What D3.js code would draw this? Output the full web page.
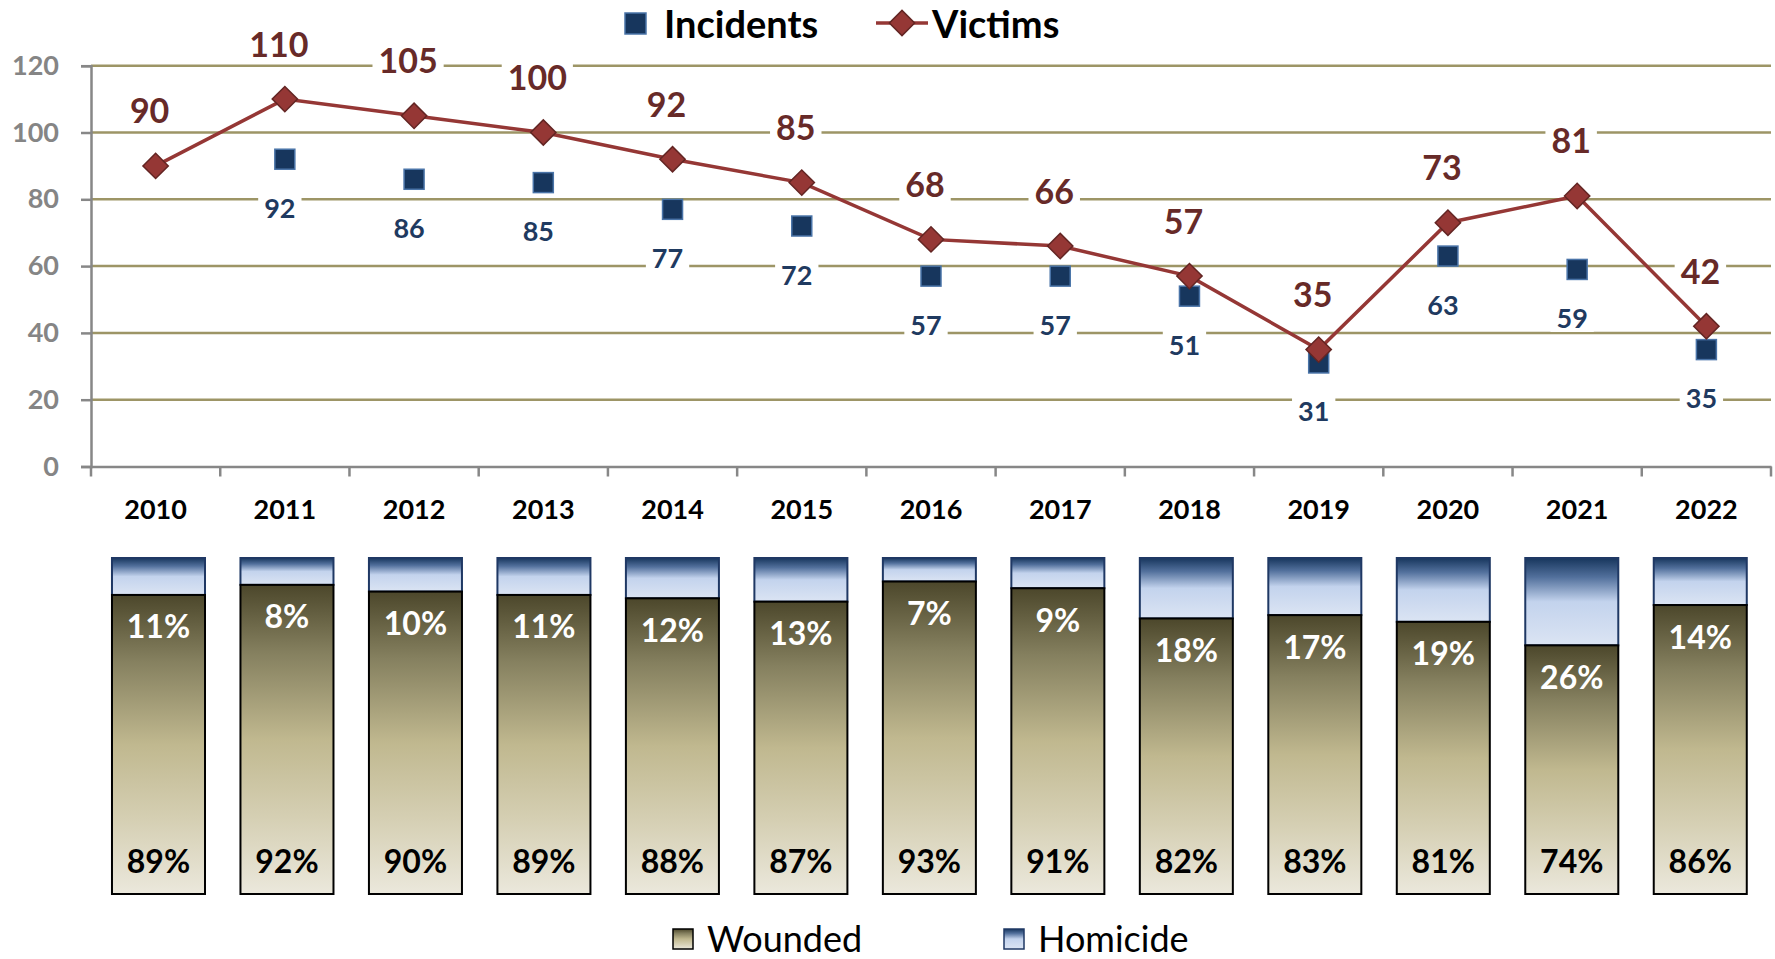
<!DOCTYPE html>
<html>
<head>
<meta charset="utf-8">
<script src="https://cdn.jsdelivr.net/npm/d3@7"></script>
<style>
  body { margin: 0; background: #fff; }
  text { font-family: Lato, "Open Sans", sans-serif; }
</style>
</head>
<body>
<div id="chart"></div>
<script>
const width = 1775
const height = 959

// data
const years = ["2010", "2011", "2012", "2013", "2014", "2015", "2016", "2017", "2018", "2019", "2020", "2021", "2022"]
const victims = [90, 110, 105, 100, 92, 85, 68, 66, 57, 35, 73, 81, 42]
const incidents = [null, 92, 86, 85, 77, 72, 57, 57, 51, 31, 63, 59, 35]
const woundedPct = [89, 92, 90, 89, 88, 87, 93, 91, 82, 83, 81, 74, 86]
const homicidePct = [11, 8, 10, 11, 12, 13, 7, 9, 18, 17, 19, 26, 14]
const yTicks = [0, 20, 40, 60, 80, 100, 120]

const svg = d3.select("div#chart").append("svg").attr("width", width).attr("height", height)
const defs = svg.append("defs")

const woundGrad = defs.append("linearGradient").attr("id", "wound").attr("x1", 0).attr("y1", 0).attr("x2", 0).attr("y2", 1)
;[[0, "#4c472b"], [0.22, "#85805f"], [0.5, "#c0b88f"], [0.75, "#d5cfb3"], [1, "#ebe8dc"]]
    .forEach(s => woundGrad.append("stop").attr("offset", s[0]).attr("stop-color", s[1]))
const homGrad = defs.append("linearGradient").attr("id", "hom").attr("x1", 0).attr("y1", 0).attr("x2", 0).attr("y2", 1)
;[[0, "#17365d"], [0.22, "#52709c"], [0.5, "#c3d3ed"], [1, "#dbe4f3"]]
    .forEach(s => homGrad.append("stop").attr("offset", s[0]).attr("stop-color", s[1]))

// ---- top panel: line + squares
const x = d3.scaleBand().domain(years).range([91, 1771])
const y = d3.scaleLinear().domain([0, 120]).range([466.5, 65.7])
const cx = d => x(d) + x.bandwidth() / 2

const grid = svg.append("g")
grid.selectAll("line").data(yTicks.filter(t => t > 0)).join("line")
    .attr("x1", x.range()[0]).attr("x2", x.range()[1])
    .attr("y1", d => y(d)).attr("y2", d => y(d))
    .attr("stroke", "#9d9566").attr("stroke-width", 2.5)

const yAxis = svg.append("g").attr("transform", `translate(${x.range()[0]},0)`)
    .call(d3.axisLeft(y).tickValues(yTicks).tickSize(10).tickPadding(22))
yAxis.select(".domain").attr("stroke", "#878787").attr("stroke-width", 2.5)
yAxis.selectAll(".tick line").attr("stroke", "#878787").attr("stroke-width", 2.5)
yAxis.selectAll(".tick text").attr("fill", "#858585").attr("font-size", 27).attr("font-weight", "bold")

const xAxis = svg.append("g").attr("transform", `translate(0,${y(0)})`)
    .call(d3.axisBottom(x).tickSize(0).tickPadding(33))
xAxis.select(".domain").attr("stroke", "#878787").attr("stroke-width", 2.5)
xAxis.selectAll(".tick text").attr("fill", "#000").attr("font-size", 27).attr("font-weight", "bold")
xAxis.selectAll(".bound").data(years.concat(["end"])).join("line").attr("class", "bound")
    .attr("x1", (d, i) => x.range()[0] + i * x.step()).attr("x2", (d, i) => x.range()[0] + i * x.step())
    .attr("y1", 0).attr("y2", 10).attr("stroke", "#878787").attr("stroke-width", 2.5)

// label helper: text with white box behind it
function label(g, tx, ty, txt, color, size) {
    const t = g.append("text").attr("x", tx).attr("y", ty).attr("text-anchor", "middle")
        .attr("dominant-baseline", "central").attr("font-size", size).attr("font-weight", "bold")
        .attr("fill", color).text(txt)
    const b = t.node().getBBox()
    g.insert("rect", "text:last-child").attr("x", b.x - 6).attr("y", b.y + 2).attr("width", b.width + 12)
        .attr("height", b.height - 4).attr("fill", "#fff")
}

const incData = years.map((d, i) => ({ year: d, v: incidents[i] })).filter(d => d.v !== null)
const vicData = years.map((d, i) => ({ year: d, v: victims[i] }))

const labels = svg.append("g")
incData.forEach(d => label(labels.append("g"), cx(d.year) - 5, y(d.v) + 48, d.v, "#1f3a60", 27))
vicData.forEach(d => label(labels.append("g"), cx(d.year) - 6, y(d.v) - 56, d.v, "#672a28", 34))

svg.append("g").selectAll("rect").data(incData).join("rect")
    .attr("x", d => cx(d.year) - 10).attr("y", d => y(d.v) - 10)
    .attr("width", 20).attr("height", 20)
    .attr("fill", "#17365d").attr("stroke", "#4a74a8").attr("stroke-width", 1.5)

const line = d3.line().x(d => cx(d.year)).y(d => y(d.v))
svg.append("path").datum(vicData).attr("d", line)
    .attr("fill", "none").attr("stroke", "#953735").attr("stroke-width", 3.5)

const diamond = d3.symbol().type(d3.symbolSquare).size(320)
svg.append("g").selectAll("path").data(vicData).join("path")
    .attr("d", diamond)
    .attr("transform", d => `translate(${cx(d.year)},${y(d.v)}) rotate(45)`)
    .attr("fill", "#953735").attr("stroke", "#632523").attr("stroke-width", 1.5)

// top legend
const lg = svg.append("g")
lg.append("rect").attr("x", 625).attr("y", 13).attr("width", 21).attr("height", 21)
    .attr("fill", "#17365d").attr("stroke", "#4a74a8").attr("stroke-width", 1.5)
lg.append("text").attr("x", 664).attr("y", 23).attr("dominant-baseline", "central")
    .attr("font-size", 38).attr("font-weight", "bold").text("Incidents")
lg.append("line").attr("x1", 876).attr("x2", 928).attr("y1", 23).attr("y2", 23)
    .attr("stroke", "#953735").attr("stroke-width", 3.5)
lg.append("path").attr("d", diamond).attr("transform", "translate(902,23) rotate(45)")
    .attr("fill", "#953735").attr("stroke", "#632523").attr("stroke-width", 1.5)
lg.append("text").attr("x", 932).attr("y", 23).attr("dominant-baseline", "central")
    .attr("font-size", 38).attr("font-weight", "bold").text("Victims")

// ---- bottom panel: 100% stacked bars
const xb = d3.scaleBand().domain(years).range([94.25, 1764.5]).paddingInner(0.276).paddingOuter(0.138)
const yb = d3.scaleLinear().domain([0, 100]).range([894, 558])

const bars = svg.append("g")
years.forEach((yr, i) => {
    const g = bars.append("g")
    g.append("rect").attr("x", xb(yr)).attr("y", yb(100)).attr("width", xb.bandwidth())
        .attr("height", yb(woundedPct[i]) - yb(100))
        .attr("fill", "url(#hom)").attr("stroke", "#1f3864").attr("stroke-width", 2)
    g.append("rect").attr("x", xb(yr)).attr("y", yb(woundedPct[i])).attr("width", xb.bandwidth())
        .attr("height", yb(0) - yb(woundedPct[i]))
        .attr("fill", "url(#wound)").attr("stroke", "#000").attr("stroke-width", 2)
    g.append("text").attr("x", xb(yr) + xb.bandwidth() / 2).attr("y", yb(woundedPct[i]) + 31)
        .attr("text-anchor", "middle").attr("dominant-baseline", "central")
        .attr("font-size", 32).attr("font-weight", "bold").attr("fill", "#fff").text(homicidePct[i] + "%")
    g.append("text").attr("x", xb(yr) + xb.bandwidth() / 2).attr("y", yb(0) - 34)
        .attr("text-anchor", "middle").attr("dominant-baseline", "central")
        .attr("font-size", 32).attr("font-weight", "bold").attr("fill", "#000").text(woundedPct[i] + "%")
})

// bottom legend
const bl = svg.append("g")
bl.append("rect").attr("x", 673).attr("y", 929).attr("width", 20).attr("height", 20)
    .attr("fill", "url(#wound)").attr("stroke", "#000").attr("stroke-width", 1.5)
bl.append("text").attr("x", 707).attr("y", 952).attr("font-size", 36).text("Wounded")
bl.append("rect").attr("x", 1004).attr("y", 929).attr("width", 20).attr("height", 20)
    .attr("fill", "url(#hom)").attr("stroke", "#1f3864").attr("stroke-width", 1.5)
bl.append("text").attr("x", 1038).attr("y", 952).attr("font-size", 36).text("Homicide")
</script>
</body>
</html>
